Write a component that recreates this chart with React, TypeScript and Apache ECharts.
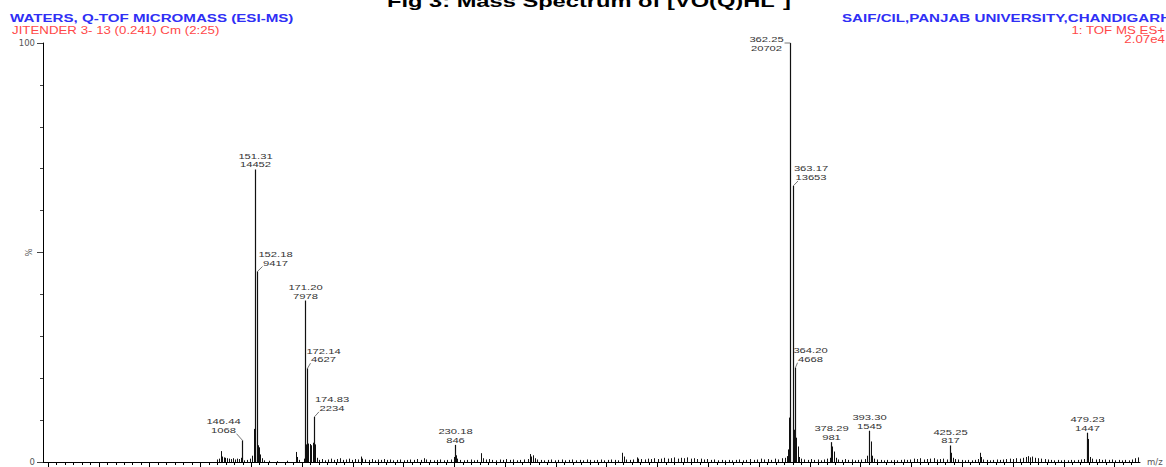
import React, { useEffect, useRef } from "react";
import * as echarts from "echarts";

// ---------- data ----------
const BASE_PEAK = 20702; // counts at 100 %
const X_MIN = 68;
const X_MAX = 500;

// labelled peaks: m/z and intensity (counts)
const labeledMz = [146.44, 151.31, 152.18, 171.2, 172.14, 174.83, 230.18, 362.25, 363.17, 364.2, 378.29, 393.3, 425.25, 479.23];
const labeledCounts = [1068, 14452, 9417, 7978, 4627, 2234, 846, 20702, 13653, 4668, 981, 1545, 817, 1447];

// unlabelled peaks and baseline noise: m/z and relative intensity (%)
const minorMz = [
  136.5, 137.2, 138.0, 138.6, 139.2, 139.8, 140.5, 141.3, 142.0, 142.8, 143.6, 144.5, 145.2, 146.1, 147.0, 148.4, 149.6, 150.4, 150.9,
  152.6, 153.1, 153.6, 154.3, 155.2, 157.0, 160.0, 164.0, 167.7, 168.2, 168.8, 170.6, 171.6, 172.5, 173.1, 173.7, 174.3, 175.3, 175.9,
  176.6, 177.8, 179.0, 180.3, 181.5, 182.4, 183.6, 184.9, 186.0, 187.2, 188.5, 189.7, 190.8, 192.0, 193.1, 193.7, 194.9, 196.2, 197.4,
  198.6, 199.8, 201.0, 202.3, 203.5, 204.7, 206.0, 207.4, 208.6, 210.0, 211.3, 212.7, 214.0, 215.4, 216.8, 218.1, 219.0, 220.4, 221.8,
  223.1, 224.5, 225.8, 227.2, 228.6, 229.7, 230.6, 231.1, 232.2, 233.6, 235.0, 236.4, 237.8, 239.1, 240.5, 241.1, 242.3, 243.7, 245.0,
  246.4, 247.8, 249.1, 250.5, 251.8, 253.2, 254.6, 256.0, 257.4, 258.8, 259.6, 260.2, 260.9, 261.6, 262.7, 264.0, 265.4, 266.8, 268.2,
  269.5, 270.9, 272.3, 273.7, 275.0, 276.5, 277.9, 279.3, 280.7, 282.1, 283.5, 284.9, 286.3, 287.7, 289.0, 290.4, 291.8, 293.2, 294.6,
  296.2, 296.8, 297.6, 299.0, 300.4, 301.8, 302.5, 303.6, 304.9, 306.2, 307.5, 308.8, 310.1, 311.4, 312.7, 314.0, 315.3, 316.6, 317.9,
  319.2, 320.5, 321.8, 323.1, 324.4, 325.7, 327.0, 328.3, 329.6, 331.0, 332.4, 333.8, 335.2, 336.6, 338.0, 339.4, 340.8, 342.2, 343.6,
  345.0, 346.4, 347.8, 349.2, 350.6, 352.0, 353.4, 354.8, 356.2, 357.6, 359.0, 360.2, 360.9, 361.5, 361.9, 363.6, 364.6, 365.2, 365.8,
  366.6, 367.8, 369.1, 370.4, 371.7, 373.0, 374.3, 375.6, 376.9, 377.8, 378.9, 379.5, 380.1, 381.2, 382.5, 383.8, 385.1, 386.4, 387.7,
  389.0, 390.3, 391.6, 392.5, 393.9, 394.6, 395.4, 396.6, 397.9, 399.2, 400.5, 401.8, 403.1, 404.4, 405.7, 407.0, 408.3, 409.6, 410.9,
  412.2, 413.5, 414.8, 416.1, 417.4, 418.7, 420.0, 421.3, 422.6, 423.9, 425.7, 426.3, 427.2, 428.5, 429.8, 431.1, 432.4, 433.7, 435.0,
  436.2, 436.8, 437.4, 438.3, 439.6, 440.9, 442.2, 443.5, 444.8, 446.1, 447.4, 448.7, 450.0, 451.3, 452.6, 453.9, 455.2, 456.0, 456.8,
  457.6, 458.5, 459.8, 461.1, 462.4, 463.7, 465.0, 466.3, 467.6, 468.9, 470.2, 471.5, 472.8, 474.1, 475.4, 476.7, 478.0, 479.6, 480.3,
  481.2, 482.5, 483.8, 485.1, 486.4, 487.7, 489.0, 490.3, 491.6, 492.9, 494.2, 495.5, 496.8, 498.1, 499.3,
];
const minorPct = [
  0.6, 0.8, 2.6, 1.3, 1.1, 1.0, 0.9, 0.8, 0.7, 0.9, 0.6, 0.8, 0.7, 1.0, 0.4, 0.5, 0.8, 1.5, 7.9,
  4.0, 3.5, 1.8, 0.9, 0.4, 0.3, 0.2, 0.3, 2.4, 1.2, 0.5, 0.8, 4.2, 4.4, 4.3, 4.0, 4.6, 4.2, 1.0,
  0.5, 0.7, 0.4, 0.6, 0.8, 0.5, 0.7, 0.9, 0.5, 0.6, 0.8, 0.5, 0.7, 0.6, 1.3, 0.8, 0.6, 0.5, 0.7,
  0.4, 0.6, 0.5, 0.7, 0.5, 0.6, 0.4, 0.5, 0.6, 0.4, 0.5, 0.6, 0.5, 0.7, 0.5, 0.9, 0.6, 0.5, 0.4,
  0.5, 0.6, 0.4, 0.5, 0.6, 1.2, 1.6, 0.8, 0.5, 0.4, 0.5, 0.6, 0.4, 0.5, 2.1, 0.9, 0.6, 0.7, 0.5,
  0.4, 0.6, 0.5, 0.7, 0.5, 0.6, 0.4, 0.5, 0.6, 0.7, 1.9, 1.3, 1.6, 0.9, 0.6, 0.5, 0.4, 0.5, 0.6,
  0.4, 0.5, 0.6, 0.4, 0.5, 0.6, 0.4, 0.5, 0.4, 0.6, 0.5, 0.4, 0.5, 0.6, 0.4, 0.5, 0.6, 0.5, 0.4,
  2.2, 1.3, 0.6, 0.5, 0.6, 1.1, 0.8, 0.7, 0.6, 0.8, 0.7, 0.9, 0.7, 0.8, 1.0, 0.8, 0.9, 1.1, 0.8,
  1.0, 0.9, 1.1, 0.8, 0.9, 0.7, 0.8, 0.6, 0.7, 0.5, 0.6, 0.4, 0.5, 0.4, 0.5, 0.4, 0.5, 0.6, 0.4,
  0.5, 0.7, 0.5, 0.6, 0.8, 0.6, 0.7, 0.5, 0.8, 0.6, 0.9, 1.0, 1.4, 3.0, 10.6, 7.7, 5.8, 3.7, 1.2,
  0.8, 0.6, 0.5, 0.7, 0.5, 0.6, 0.4, 0.6, 0.8, 1.0, 3.7, 2.5, 1.0, 0.6, 0.5, 0.7, 0.5, 0.6, 0.4,
  0.5, 0.6, 0.7, 1.5, 4.9, 1.5, 0.8, 0.6, 0.5, 0.4, 0.5, 0.4, 0.5, 0.4, 0.5, 0.6, 0.5, 0.6, 0.8,
  0.7, 0.9, 0.6, 0.7, 0.8, 0.9, 0.6, 0.7, 0.8, 0.6, 2.2, 1.0, 0.7, 0.6, 0.5, 0.4, 0.5, 0.4, 0.5,
  0.7, 2.2, 1.2, 0.6, 0.5, 0.4, 0.5, 0.6, 0.5, 0.6, 0.7, 0.8, 0.7, 0.9, 0.8, 1.0, 1.2, 1.4, 1.1,
  1.3, 1.0, 0.9, 0.8, 0.7, 0.6, 0.5, 0.4, 0.5, 0.4, 0.5, 0.4, 0.5, 0.4, 0.5, 0.6, 0.7, 5.5, 1.2,
  0.8, 0.6, 0.7, 0.5, 0.6, 0.5, 0.6, 0.4, 0.5, 0.4, 0.5, 0.4, 0.6, 0.9, 1.1,
];

// axis ticks (m/z)
const majorTicks = [70, 90, 110, 130, 150, 170, 190, 210, 230, 250, 270, 290, 310, 330, 350, 370, 390, 410, 430, 450, 470, 490];

// ---------- layout (styles, not data) ----------
// label centre offset in px from the top of its peak
const LABEL_OFFSETS: [number, number][] = [
  [-19, -14.7], [0, -9.3], [18, -12.9], [0, -9.3], [16, -13.2], [17.5, -13], [0, -9.3],
  [-24, 1], [17.5, -12.7], [15, -12.8], [0, -9.3], [0, -9.3], [0, -9.3], [0, -9.3],
];

const SANS = '"Liberation Sans", Arial, sans-serif';
const BLUE = "#2f2ff5";
const RED = "#ff4848";

export default function App() {
  const ref = useRef<HTMLDivElement>(null);

  useEffect(() => {
    document.body.style.margin = "0";
    if (!ref.current) return;
    const chart = echarts.init(ref.current, null, { renderer: "svg" });

    const minorTicks: number[] = [];
    for (let k = 0; k * 20 + 70 <= X_MAX; k++) {
      for (let j = 1; j < 6; j++) {
        const v = 70 + k * 20 + (j * 20) / 6;
        if (v < X_MAX) minorTicks.push(v);
      }
    }

    const minorData = minorMz.map((m, i) => [m, minorPct[i]]);
    const labeledData = labeledMz.map((m, i) => [m, (labeledCounts[i] / BASE_PEAK) * 100, labeledCounts[i], i]);

    const option: any = {
      animation: false,
      backgroundColor: "#fff",
      grid: { left: 43, right: 26, top: 43, bottom: 5, containLabel: false, outerBoundsMode: "none" },
      xAxis: [
        {
          type: "value",
          min: X_MIN,
          max: X_MAX,
          position: "bottom",
          axisLine: { show: true, onZero: false, lineStyle: { color: "#000", width: 1 } },
          axisTick: { show: true, customValues: majorTicks, length: 5, lineStyle: { color: "#000" } },
          axisLabel: { show: false },
          splitLine: { show: false },
          name: "m/z",
          nameLocation: "end",
          nameGap: 7,
          nameMoveOverlap: false,
          nameTextStyle: { fontFamily: "DejaVu Sans", fontSize: 8.5, color: "#555", verticalAlign: "middle" },
        },
        {
          type: "value",
          min: X_MIN,
          max: X_MAX,
          position: "bottom",
          axisLine: { show: false },
          axisTick: { show: true, customValues: minorTicks, length: 3, lineStyle: { color: "#000" } },
          axisLabel: { show: false },
          splitLine: { show: false },
        },
      ],
      yAxis: {
        type: "value",
        min: 0,
        max: 100,
        interval: 50,
        axisLine: { show: true, lineStyle: { color: "#000", width: 1 } },
        axisTick: { show: true, length: 6, lineStyle: { color: "#444" } },
        minorTick: { show: true, splitNumber: 5, length: 3, lineStyle: { color: "#444" } },
        splitLine: { show: false },
        minorSplitLine: { show: false },
        axisLabel: {
          margin: 8,
          fontFamily: "DejaVu Sans",
          fontSize: 8.5,
          color: "#555",
          formatter: (v: number) => (v === 50 ? "" : String(v)),
        },
        name: "%",
        nameLocation: "middle",
        nameGap: 10,
        nameRotate: 90,
        nameMoveOverlap: false,
        nameTextStyle: { fontFamily: "DejaVu Sans", fontSize: 8.5, color: "#555" },
      },
      graphic: [
        {
          type: "text",
          x: 387,
          y: 1,
          scaleX: 1.48,
          style: { text: "Fig 3: Mass Spectrum of [VO(Q)HL⁻]", font: `bold 16px ${SANS}`, fill: "#000", align: "left", verticalAlign: "middle" },
        },
        {
          type: "text",
          x: 10,
          y: 18.2,
          scaleX: 1.376,
          style: { text: "WATERS, Q-TOF MICROMASS (ESI-MS)", font: `bold 11px ${SANS}`, fill: BLUE, align: "left", verticalAlign: "middle" },
        },
        {
          type: "text",
          x: 12,
          y: 30.5,
          scaleX: 1.33,
          style: { text: "JITENDER 3- 13 (0.241) Cm (2:25)", font: `10px ${SANS}`, fill: RED, align: "left", verticalAlign: "middle" },
        },
        {
          type: "text",
          x: 842,
          y: 17.9,
          scaleX: 1.376,
          style: { text: "SAIF/CIL,PANJAB UNIVERSITY,CHANDIGARH", font: `bold 11px ${SANS}`, fill: BLUE, align: "left", verticalAlign: "middle" },
        },
        {
          type: "text",
          x: 1165,
          y: 29.8,
          scaleX: 1.33,
          style: { text: "1: TOF MS ES+", font: `10px ${SANS}`, fill: RED, align: "right", verticalAlign: "middle" },
        },
        {
          type: "text",
          x: 1165,
          y: 39.2,
          scaleX: 1.33,
          style: { text: "2.07e4", font: `10px ${SANS}`, fill: RED, align: "right", verticalAlign: "middle" },
        },
      ],
      series: [
        {
          type: "custom",
          name: "noise",
          xAxisIndex: 0,
          silent: true,
          data: minorData,
          encode: { x: 0, y: 1 },
          renderItem: (_p: any, api: any) => {
            const x = api.value(0);
            const y = api.value(1);
            const p0 = api.coord([x, 0]);
            const p1 = api.coord([x, y]);
            const cx = Math.round(p0[0]) + 0.5;
            return {
              type: "line",
              shape: { x1: cx, y1: p0[1], x2: cx, y2: p1[1] },
              style: { stroke: "#111", lineWidth: 1 },
            };
          },
        },
        {
          type: "custom",
          name: "peaks",
          xAxisIndex: 0,
          silent: true,
          clip: false,
          data: labeledData,
          encode: { x: 0, y: 1 },
          renderItem: (_p: any, api: any) => {
            const x = api.value(0);
            const y = api.value(1);
            const count = api.value(2);
            const idx = api.value(3);
            const [dx, dy] = LABEL_OFFSETS[idx];
            const p0 = api.coord([x, 0]);
            const p1 = api.coord([x, y]);
            const cx = Math.round(p0[0]) + 0.5;
            const children: any[] = [
              {
                type: "line",
                shape: { x1: cx, y1: p0[1], x2: cx, y2: p1[1] },
                style: { stroke: "#111", lineWidth: 1.2 },
              },
              {
                type: "text",
                x: cx + dx,
                y: p1[1] + dy,
                scaleX: 1.4,
                style: {
                  text: `${x.toFixed(2)}\n${count}`,
                  font: `8px ${SANS}`,
                  lineHeight: 8.8,
                  fill: "#333",
                  align: "center",
                  verticalAlign: "middle",
                },
              },
            ];
            if (dx !== 0) {
              let sx: number, sy: number;
              if (dx < 0 && dy > -5) {
                sx = dx + 18;
                sy = 0;
              } else {
                sx = dx - Math.sign(dx) * 13;
                sy = dy + 8;
              }
              children.push({
                type: "line",
                shape: { x1: cx + sx, y1: p1[1] + sy, x2: cx, y2: p1[1] },
                style: { stroke: "#555", lineWidth: 0.8 },
              });
            }
            return { type: "group", children };
          },
        },
      ],
    };

    chart.setOption(option);
    return () => chart.dispose();
  }, []);

  return <div ref={ref} style={{ width: 1166, height: 467 }} />;
}
